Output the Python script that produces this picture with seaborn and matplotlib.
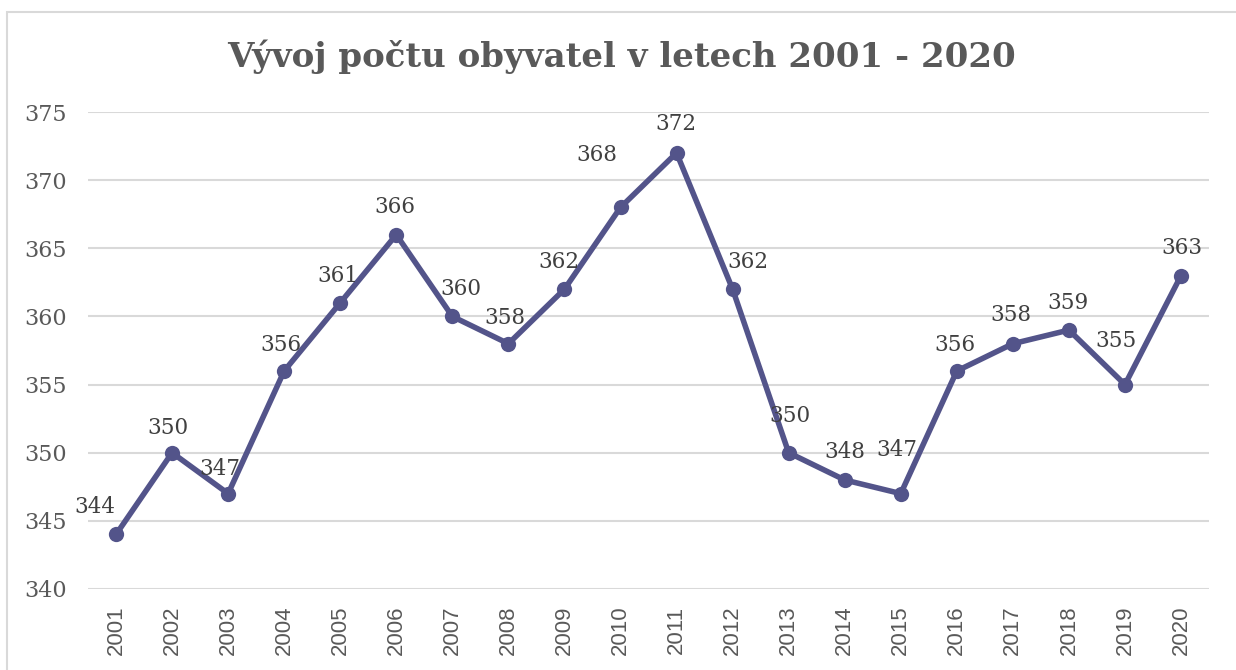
import matplotlib
matplotlib.use('agg')
import seaborn as sns
import matplotlib.pyplot as plt
from matplotlib.patches import Rectangle
import pandas as pd

years = [str(y) for y in range(2001, 2021)]
population = [344, 350, 347, 356, 361, 366, 360, 358, 362, 368,
              372, 362, 350, 348, 347, 356, 358, 359, 355, 363]
y_ticks = [340, 345, 350, 355, 360, 365, 370, 375]
title = 'Vývoj počtu obyvatel v letech 2001 - 2020'

# label placement (pixels from the point), roughly as excel put them
label_dx = [-21, -4, -8, -3, -2, -1, 9, -3, -6, -24, -1, 15, 1, 0, -4, -2, -2, -1, -9, 1]
label_dy = [27, 25, 25, 26, 27, 28, 27, 26, 27, 52, 29, 27, 37, 28, 44, 26, 29, 27, 44, 28]

line_color = '#53548A'
text_gray = '#595959'

sns.set_theme(style='white')
plt.rcParams['font.family'] = ['DejaVu Serif', 'DejaVu Sans']

df = pd.DataFrame({'rok': years, 'obyvatel': population})

fig = plt.figure(figsize=(12.36, 6.70), dpi=100)
ax = fig.add_axes([0.0712, 0.1209, 0.907, 0.7119])

sns.lineplot(data=df, x='rok', y='obyvatel', ax=ax, color=line_color,
             linewidth=4, marker='o', markersize=11, markeredgewidth=0,
             sort=False)

ax.set_xlim(-0.5, len(years) - 0.5)
ax.set_ylim(340, 375)
ax.set_yticks(y_ticks)
ax.yaxis.grid(True, color='#D9D9D9', linewidth=1.5)
ax.xaxis.grid(False)
for s in ax.spines.values():
    s.set_visible(False)
ax.set_xlabel('')
ax.set_ylabel('')
ax.tick_params(axis='y', length=0, pad=15, labelsize=16, labelcolor=text_gray)
ax.tick_params(axis='x', length=0, pad=12)
for lbl in ax.get_xticklabels():
    lbl.set_rotation(90)
    lbl.set_fontfamily('Liberation Sans')
    lbl.set_fontsize(16)
    lbl.set_color(text_gray)
    lbl.set_va('top')

for i, v in enumerate(population):
    ax.annotate(str(v), (i, v), xytext=(label_dx[i], label_dy[i]),
                textcoords='offset pixels', ha='center', va='center',
                fontsize=15.5, color='#404040')

fig.text(0.503, 0.916, title, ha='center', va='center', fontsize=24.5,
         fontweight='bold', color=text_gray)

fig.patches.append(Rectangle((0.0057, -0.02), 1.0, 1.002, transform=fig.transFigure,
                             fill=False, edgecolor='#D9D9D9', linewidth=1.5))

fig.savefig('out.png', dpi=100, facecolor='white')
